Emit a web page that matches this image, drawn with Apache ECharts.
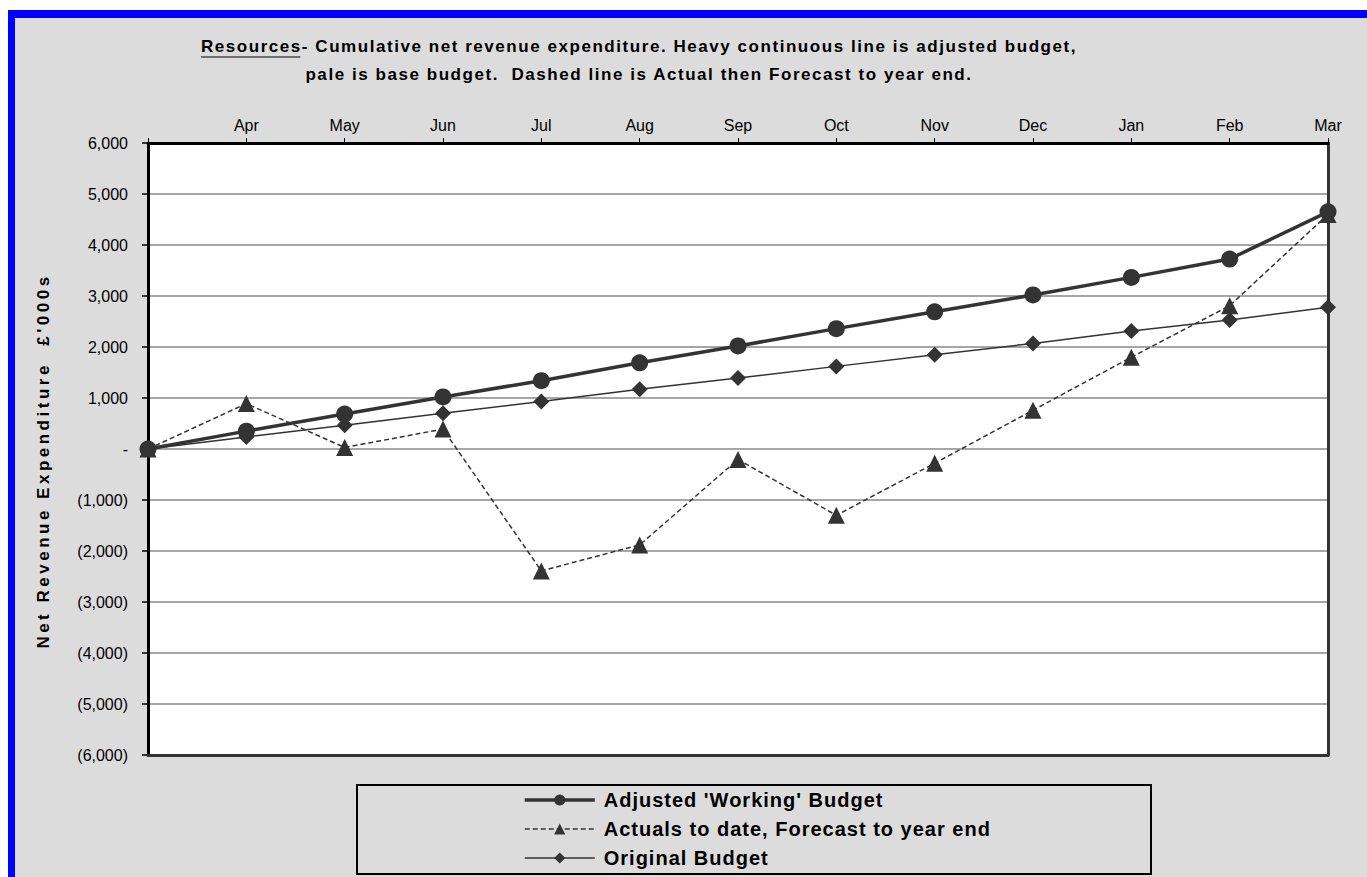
<!DOCTYPE html>
<html>
<head>
<meta charset="utf-8">
<script src="https://cdn.jsdelivr.net/npm/echarts@6/dist/echarts.min.js"></script>
<style>
  html, body { margin: 0; padding: 0; background: #ffffff; overflow: hidden; }
  #frame { position: absolute; left: 8px; top: 10px; width: 1420px; height: 920px;
           background: #dcdcdc; border-top: 8px solid #0000ff; border-left: 7px solid #0000ff; }
  #chart { position: absolute; left: 0; top: 0; width: 1367px; height: 877px; }
</style>
</head>
<body>
<div id="frame"></div>
<div id="chart"></div>
<script>
const categories = ['', 'Apr', 'May', 'Jun', 'Jul', 'Aug', 'Sep', 'Oct', 'Nov', 'Dec', 'Jan', 'Feb', 'Mar'];
const adjustedBudget = [0, 350, 685, 1020, 1340, 1690, 2020, 2360, 2690, 3020, 3365, 3725, 4650];
const actualsForecast = [0, 890, 30, 390, -2390, -1880, -205, -1300, -280, 760, 1800, 2810, 4600];
const originalBudget = [0, 235, 465, 700, 930, 1170, 1390, 1620, 1850, 2070, 2315, 2530, 2780];
const seriesNames = ["Adjusted 'Working' Budget", 'Actuals to date, Forecast to year end', 'Original Budget'];
const titleLine1 = 'Resources- Cumulative net revenue expenditure. Heavy continuous line is adjusted budget,';
const titleLine2 = 'pale is base budget.  Dashed line is Actual then Forecast to year end.';
const yAxisName = "Net Revenue Expenditure  \u00a3'000s";

const FONT = '"Liberation Sans", Arial, sans-serif';
const TITLE_FS = 17, TITLE_LS = 1.55;
const LEGEND_FS = 20, LEGEND_LS = 1.0;
const YNAME_FS = 17, YNAME_LS = 3.5;

const ctx = document.createElement('canvas').getContext('2d');
ctx.font = 'bold ' + TITLE_FS + 'px ' + FONT;
const w1 = ctx.measureText(titleLine1).width + titleLine1.length * TITLE_LS;
const wRes = ctx.measureText('Resources').width + 9 * TITLE_LS - TITLE_LS;
const titleCx = 639;
const x0 = titleCx - w1 / 2;

function fmt(v) {
  if (v === 0) return '-';
  const s = Math.abs(v).toLocaleString('en-US');
  return v < 0 ? '(' + s + ')' : s;
}

const el = document.getElementById('chart');
const chart = echarts.init(el, null, { renderer: 'svg' });
const dark = '#333333';
const lineWidths = [3.5, 1.5, 1.5];
chart.setOption({
  backgroundColor: 'transparent',
  animation: false,
  grid: { left: 148, top: 143, right: 39, bottom: 122, show: true, backgroundColor: '#ffffff', borderWidth: 0 },
  xAxis: [{
    type: 'category', position: 'top', boundaryGap: false, data: categories, z: 1,
    axisLine: { show: true, onZero: false, lineStyle: { color: '#000', width: 3 } },
    axisTick: { show: true, length: 5, lineStyle: { color: '#000', width: 1 } },
    axisLabel: { color: '#000', fontSize: 16, fontFamily: FONT, margin: 10 },
    splitLine: { show: false }
  }, {
    type: 'category', position: 'bottom', boundaryGap: false, data: categories, z: 1,
    axisLine: { show: true, onZero: false, lineStyle: { color: dark, width: 3 } },
    axisTick: { show: false }, axisLabel: { show: false }, splitLine: { show: false }
  }],
  yAxis: [{
    type: 'value', min: -6000, max: 6000, interval: 1000, z: 0,
    name: yAxisName, nameLocation: 'middle', nameGap: 96,
    nameTextStyle: { color: '#000', fontSize: YNAME_FS, fontWeight: 'bold', fontFamily: FONT, padding: [0, 24, 0, 0] },
    axisLine: { show: true, onZero: false, lineStyle: { color: '#000', width: 3 } },
    axisTick: { show: true, length: 6, lineStyle: { color: '#000', width: 1.5 } },
    axisLabel: { color: '#000', fontSize: 16, fontFamily: FONT, margin: 20, formatter: fmt },
    splitLine: { show: true, lineStyle: { color: '#a6a6a6', width: 2 } }
  }, {
    type: 'value', min: -6000, max: 6000, interval: 1000, position: 'right', z: 1,
    axisLine: { show: true, onZero: false, lineStyle: { color: dark, width: 3 } },
    axisTick: { show: false }, axisLabel: { show: false }, splitLine: { show: false }
  }],
  legend: {
    orient: 'vertical', left: 523, top: 790, padding: 0, itemWidth: 70, itemHeight: 14, itemGap: 9,
    textStyle: { color: '#000', fontSize: LEGEND_FS, lineHeight: 20, fontWeight: 'bold', fontFamily: FONT, padding: [0, 0, 0, 4] },
    data: seriesNames.map((n, i) => ({ name: n, lineStyle: { width: lineWidths[i] } }))
  },
  graphic: [
    { type: 'rect', z: 100, shape: { x: 357, y: 785, width: 794, height: 89 },
      style: { fill: 'none', stroke: '#000', lineWidth: 2 } },
    { type: 'text', z: 100, x: x0, y: 46,
      style: { text: titleLine1, font: 'bold ' + TITLE_FS + 'px ' + FONT, fill: '#000', textAlign: 'left', textVerticalAlign: 'middle', verticalAlign: 'middle' } },
    { type: 'text', z: 100, x: titleCx, y: 74,
      style: { text: titleLine2, font: 'bold ' + TITLE_FS + 'px ' + FONT, fill: '#000', textAlign: 'center', textVerticalAlign: 'middle', verticalAlign: 'middle' } },
    { type: 'line', z: 100, shape: { x1: x0, y1: 57, x2: x0 + wRes, y2: 57 },
      style: { stroke: '#000', lineWidth: 1.2 } }
  ],
  series: [
    { name: seriesNames[0], type: 'line', data: adjustedBudget, z: 5, xAxisIndex: 0, yAxisIndex: 0,
      symbol: 'circle', symbolSize: 17,
      lineStyle: { color: dark, width: lineWidths[0] }, itemStyle: { color: dark } },
    { name: seriesNames[1], type: 'line', data: actualsForecast, z: 4, xAxisIndex: 0, yAxisIndex: 0,
      symbol: 'triangle', symbolSize: 17,
      lineStyle: { color: dark, width: lineWidths[1], type: [5, 3] }, itemStyle: { color: dark } },
    { name: seriesNames[2], type: 'line', data: originalBudget, z: 3, xAxisIndex: 0, yAxisIndex: 0,
      symbol: 'diamond', symbolSize: 16,
      lineStyle: { color: dark, width: lineWidths[2] }, itemStyle: { color: dark } }
  ]
});

const spacing = {};
spacing[titleLine1] = TITLE_LS;
spacing[titleLine2] = TITLE_LS;
spacing[yAxisName] = YNAME_LS;
seriesNames.forEach(n => { spacing[n] = LEGEND_LS; });
function applySpacing() {
  el.querySelectorAll('text').forEach(t => {
    const s = t.textContent;
    if (spacing[s] != null) t.style.letterSpacing = spacing[s] + 'px';
  });
}
applySpacing();
chart.on('finished', applySpacing);
</script>
</body>
</html>
